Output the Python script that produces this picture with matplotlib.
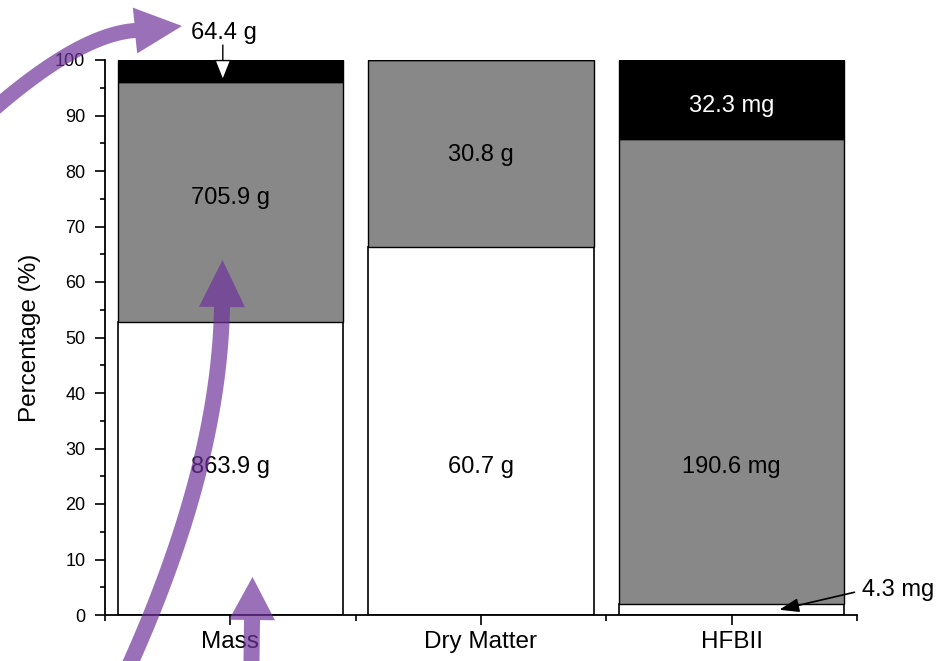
import matplotlib
matplotlib.use("Agg")
import matplotlib.pyplot as plt
from matplotlib.patches import Polygon
import numpy as np

# ---- data -------------------------------------------------------------
categories = ["Mass", "Dry Matter", "HFBII"]
bottom_vals = [863.9, 60.7, 4.3]      # white segment
middle_vals = [705.9, 30.8, 190.6]    # grey segment
top_vals = [64.4, 0.0, 32.3]          # black segment
units = ["g", "g", "mg"]
y_ticks = [0, 10, 20, 30, 40, 50, 60, 70, 80, 90, 100]

plt.rcParams["font.family"] = ["Liberation Sans", "DejaVu Sans"]

bottom_vals = np.array(bottom_vals)
middle_vals = np.array(middle_vals)
top_vals = np.array(top_vals)
totals = bottom_vals + middle_vals + top_vals
p_bot = bottom_vals / totals * 100
p_mid = middle_vals / totals * 100
p_top = top_vals / totals * 100

fig = plt.figure(figsize=(9.42, 6.61), dpi=100)
ax = fig.add_axes([105 / 942, 46 / 661, 752 / 942, 555 / 661])

x = np.arange(len(categories))
w = 0.9
GREY = "#888888"
ax.bar(x, p_bot, w, color="white", edgecolor="black", linewidth=1.2, zorder=2)
ax.bar(x, p_mid, w, bottom=p_bot, color=GREY, edgecolor="black", linewidth=1.0, zorder=2)
ax.bar(x, p_top, w, bottom=p_bot + p_mid, color="black", edgecolor="black", linewidth=1.0, zorder=2)

ax.set_xlim(-0.5, 2.5)
ax.set_ylim(0, 100)

for s in ("top", "right"):
    ax.spines[s].set_visible(False)
for s in ("left", "bottom"):
    ax.spines[s].set_linewidth(1.3)

ax.set_yticks(y_ticks)
ax.set_yticks(np.arange(5, 100, 10), minor=True)
ax.set_xticks(x)
ax.set_xticklabels(categories)
ax.set_xticks([-0.5, 0.5, 1.5, 2.5], minor=True)
ax.tick_params(axis="y", which="major", length=7.2, width=1.2, labelsize=13, pad=7)
ax.tick_params(axis="y", which="minor", length=3.6, width=1.2)
ax.tick_params(axis="x", which="major", length=7.5, width=1.2, labelsize=17.5, pad=4)
ax.tick_params(axis="x", which="minor", length=4.5, width=1.2)
ax.set_ylabel("Percentage (%)", fontsize=17.5, labelpad=10)

fmt = lambda v, u: f"{v:.1f} {u}"
FS = 17

# labels inside the bars
low_y = 26.6
ax.text(0, low_y, fmt(bottom_vals[0], units[0]), ha="center", va="center", fontsize=FS, zorder=3)
ax.text(0, p_bot[0] + p_mid[0] / 2 + 0.7, fmt(middle_vals[0], units[0]), ha="center", va="center",
        fontsize=FS, zorder=3)
ax.text(1, low_y, fmt(bottom_vals[1], units[1]), ha="center", va="center", fontsize=FS, zorder=3)
ax.text(1, p_bot[1] + p_mid[1] / 2 - 0.35, fmt(middle_vals[1], units[1]), ha="center", va="center",
        fontsize=FS, zorder=3)
ax.text(2, low_y, fmt(middle_vals[2], units[2]), ha="center", va="center", fontsize=FS, zorder=3)
ax.text(2, p_bot[2] + p_mid[2] + p_top[2] / 2 - 1.2, fmt(top_vals[2], units[2]), ha="center", va="center",
        fontsize=FS, color="white", zorder=3)

# callouts for thin segments
ax.text(-0.025, 104.9, fmt(top_vals[0], units[0]), ha="center", va="center", fontsize=FS, clip_on=False)
ax.annotate("", xy=(-0.03, p_bot[0] + p_mid[0]), xytext=(-0.03, 102.7),
            arrowprops=dict(arrowstyle="-|>,head_length=1.0,head_width=0.4", fc="white", ec="black",
                            lw=1.0, shrinkA=0, shrinkB=0, mutation_scale=14), annotation_clip=False)
ax.text(2.52, 4.5, fmt(bottom_vals[2], units[2]), ha="left", va="center", fontsize=FS, clip_on=False)
ax.annotate("", xy=(2.19, p_bot[2] / 2), xytext=(2.49, 4.1),
            arrowprops=dict(arrowstyle="-|>,head_length=0.85,head_width=0.3", fc="black", ec="black",
                            lw=1.2, shrinkA=0, shrinkB=0, mutation_scale=14), annotation_clip=False)

# purple highlight arrows, drawn in a full-figure pixel overlay
ov = fig.add_axes([0, 0, 1, 1], zorder=10)
ov.set_xlim(0, 942)
ov.set_ylim(661, 0)
ov.axis("off")
ov.patch.set_alpha(0)


def thick_arrow(p0, p1, base, tip, tail_w, head_w, n=120):
    """Outline of a curved block arrow: quadratic shaft p0->base, triangular head base->tip."""
    p0, p1, base, tip = map(np.asarray, (p0, p1, base, tip))
    s = np.linspace(0, 1, n)[:, None]
    pts = (1 - s) ** 2 * p0 + 2 * s * (1 - s) * p1 + s ** 2 * base
    d = np.gradient(pts, axis=0)
    d /= np.linalg.norm(d, axis=1)[:, None]
    nrm = np.column_stack([-d[:, 1], d[:, 0]])
    left = pts + nrm * tail_w / 2
    right = pts - nrm * tail_w / 2
    u = tip - base
    u = u / np.linalg.norm(u)
    nv = np.array([-u[1], u[0]])
    return np.vstack([left, base + nv * head_w / 2, tip, base - nv * head_w / 2, right[::-1]])


PURPLE = "#70339c"
arrows = [
    dict(p0=(-40, 140), p1=(70, 35), base=(135, 30.5), tip=(182, 26), tail_w=15),
    dict(p0=(125, 675), p1=(219, 470), base=(222, 307), tip=(222.5, 260), tail_w=16),
    dict(p0=(251, 700), p1=(251.5, 660), base=(252, 620), tip=(252.5, 577), tail_w=16),
]
for a in arrows:
    outline = thick_arrow(a["p0"], a["p1"], a["base"], a["tip"], a["tail_w"], 46)
    ov.add_patch(Polygon(outline, closed=True, facecolor=PURPLE, edgecolor="none",
                         alpha=0.7, transform=ov.transData))

fig.savefig("out.png", dpi=100)
